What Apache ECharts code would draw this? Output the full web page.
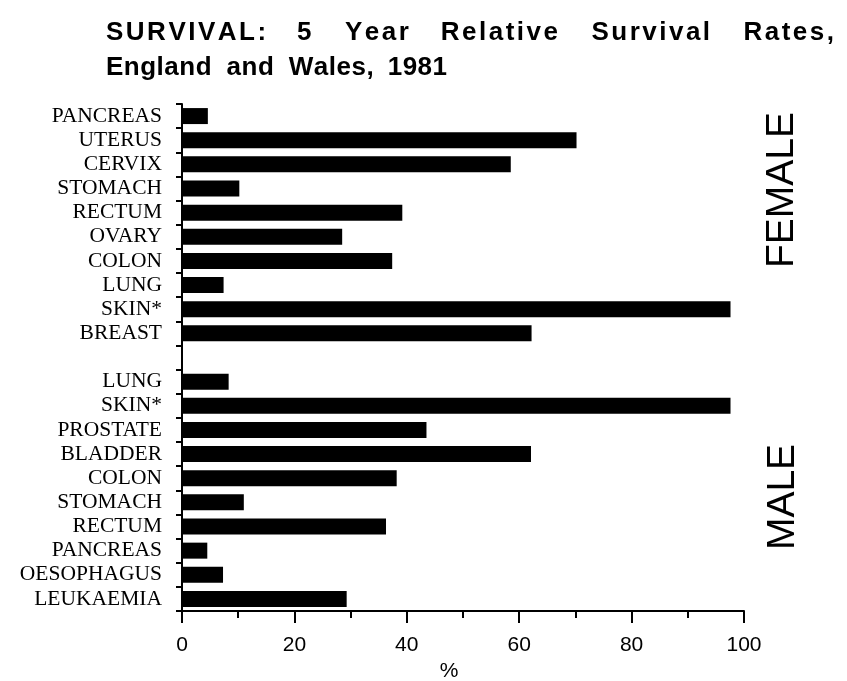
<!DOCTYPE html>
<html lang="en">
<head>
    <meta charset="UTF-8">
    <title>SURVIVAL: 5 Year Relative Survival Rates</title>
    <script src="https://cdn.jsdelivr.net/npm/echarts@6/dist/echarts.min.js"></script>
    <style>
        html, body { margin: 0; padding: 0; background: #fff; }
    </style>
</head>
<body>
    <div id="main" style="width: 847px;height:681px;"></div>
    <script type="text/javascript">
        // female sites, top to bottom
        var femaleSites = ['PANCREAS', 'UTERUS', 'CERVIX', 'STOMACH', 'RECTUM', 'OVARY', 'COLON', 'LUNG', 'SKIN*', 'BREAST'];
        var femaleRates = [4.6, 70.2, 58.5, 10.2, 39.2, 28.5, 37.4, 7.4, 97.6, 62.2];
        // male sites, top to bottom
        var maleSites = ['LUNG', 'SKIN*', 'PROSTATE', 'BLADDER', 'COLON', 'STOMACH', 'RECTUM', 'PANCREAS', 'OESOPHAGUS', 'LEUKAEMIA'];
        var maleRates = [8.3, 97.6, 43.5, 62.1, 38.2, 11.0, 36.3, 4.5, 7.3, 29.3];
        var xTicks = [0, 20, 40, 60, 80, 100];

        // one empty row between the two groups
        var categories = femaleSites.concat([''], maleSites);
        var values = femaleRates.concat(['-'], maleRates);

        // title is typeset letter-spaced, first line justified
        var titleFont = 'bold 26px "Liberation Sans", Arial, sans-serif';
        var ctx = document.createElement('canvas').getContext('2d');
        ctx.font = titleFont;
        var titleGraphics = [];
        function setLine(words, y, x0, x1, ls, gap) {
            var w = words.map(function (s) { return ctx.measureText(s).width + ls * (s.length - 1); });
            var total = w.reduce(function (a, b) { return a + b; }, 0);
            if (x1 != null) gap = (x1 - x0 - total) / (words.length - 1);
            var x = x0;
            words.forEach(function (s, i) {
                var cx = x;
                s.split('').forEach(function (ch) {
                    titleGraphics.push({ type: 'text', x: cx, y: y, style: { text: ch, font: titleFont, fill: '#000' } });
                    cx += ctx.measureText(ch).width + ls;
                });
                x += w[i] + gap;
            });
        }
        setLine(['SURVIVAL:', '5', 'Year', 'Relative', 'Survival', 'Rates,'], 20, 106, 834, 2.5);
        setLine(['England', 'and', 'Wales,', '1981'], 55, 106, null, 0.5, 15);

        var myChart = echarts.init(document.getElementById('main'));
        myChart.setOption({
            backgroundColor: '#fff',
            animation: false,
            grid: { left: 182, top: 104, right: 103, bottom: 70, outerBoundsMode: 'none' },
            xAxis: {
                type: 'value',
                min: 0,
                max: 100,
                interval: 20,
                name: '%',
                nameLocation: 'middle',
                nameGap: 50,
                nameTextStyle: { fontFamily: '"Liberation Sans", Arial', fontSize: 21, color: '#000', padding: [0, 28, 0, 0] },
                axisLine: { show: true, lineStyle: { color: '#000', width: 2 } },
                axisTick: { show: true, length: 12, lineStyle: { color: '#000', width: 2 } },
                minorTick: { show: true, splitNumber: 2, length: 7, lineStyle: { color: '#000', width: 2 } },
                splitLine: { show: false },
                axisLabel: {
                    margin: 24,
                    fontFamily: '"Liberation Sans", Arial',
                    fontSize: 21,
                    color: '#000',
                    formatter: function (v) { return xTicks.indexOf(v) >= 0 ? String(v) : ''; }
                }
            },
            yAxis: {
                type: 'category',
                inverse: true,
                data: categories,
                axisLine: { show: true, lineStyle: { color: '#000', width: 2 } },
                axisTick: { show: true, length: 6, lineStyle: { color: '#000', width: 2 } },
                axisLabel: {
                    margin: 20,
                    interval: 0,
                    fontFamily: '"Liberation Serif", "Times New Roman", serif',
                    fontSize: 21.5,
                    color: '#000',
                    padding: [10, 0, 0, 0]
                }
            },
            series: [
                {
                    type: 'bar',
                    data: values,
                    barWidth: 16,
                    itemStyle: { color: '#000' }
                }
            ],
            graphic: titleGraphics.concat([
                {
                    type: 'text', x: 782, y: 190, rotation: Math.PI / 2,
                    style: { text: 'FEMALE', font: '39px "Liberation Sans", Arial, sans-serif', fill: '#000', align: 'center', verticalAlign: 'middle' }
                },
                {
                    type: 'text', x: 783, y: 497, rotation: Math.PI / 2,
                    style: { text: 'MALE', font: '39px "Liberation Sans", Arial, sans-serif', fill: '#000', align: 'center', verticalAlign: 'middle' }
                }
            ])
        });
    </script>
</body>
</html>
